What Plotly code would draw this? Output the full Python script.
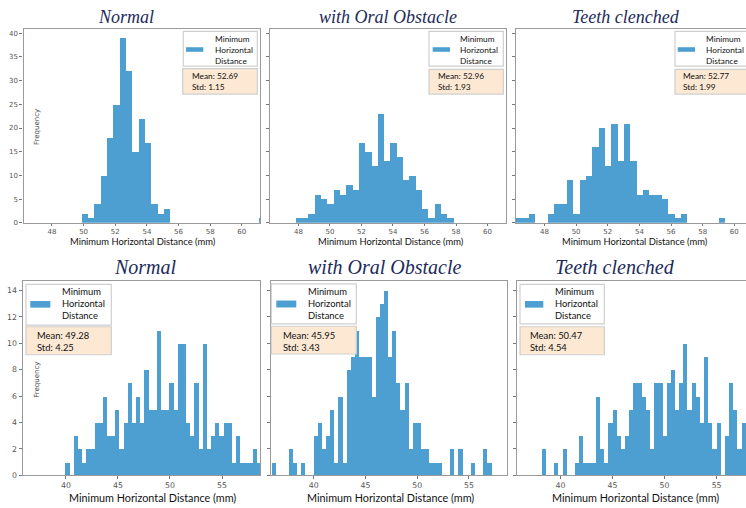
import plotly.graph_objects as go

W, H = 746, 508
BIN = 0.4  # histogram bin width (mm)

# ---------------- data ----------------
titles = ["Normal", "with Oral Obstacle", "Teeth clenched"]

# top row: first bin edge (mm) and counts per 0.4 mm bin
top_normal_start = 49.85
top_normal_counts = [2, 1, 4, 10, 18, 25, 39, 32, 15, 22, 17, 4, 2, 3,
                     0, 0, 0, 0, 0, 0, 0, 0, 0, 0, 0, 0, 0, 0, 1]
top_oral_start = 47.84
top_oral_counts = [1, 1, 2, 6, 5, 4, 7, 6, 8, 7, 17, 15, 12, 23, 13, 17, 14,
                   9, 10, 7, 3, 1, 4, 2, 1]
top_teeth_start = 46.23
top_teeth_counts = [1, 1, 2, 0, 0, 2, 4, 4, 9, 2, 9, 10, 16, 20, 12, 21, 13,
                    21, 13, 6, 7, 6, 6, 5, 2, 1, 2, 0, 0, 0, 0, 0, 1]

# bottom row
bot_normal_start = 39.92
bot_normal_counts = [1, 0, 3, 2, 1, 2, 2, 4, 4, 6, 3, 3, 5, 2, 4, 7, 4, 6, 4,
                     8, 5, 5, 11, 5, 5, 7, 5, 10, 10, 4, 3, 7, 2, 10, 2, 3, 4,
                     3, 4, 4, 1, 3, 1, 1, 1, 2, 1]
bot_oral_start = 35.96
bot_oral_counts = [1, 0, 0, 0, 2, 1, 0, 1, 0, 0, 3, 4, 2, 3, 5, 1, 6, 1, 8, 9,
                   11, 9, 9, 9, 6, 12, 13, 14, 9, 11, 7, 5, 7, 2, 4, 4, 2, 2,
                   1, 1, 1, 0, 0, 2, 0, 2, 0, 0, 1, 0, 0, 2, 1]
bot_teeth_start = 38.23
bot_teeth_counts = [2, 0, 0, 1, 0, 2, 0, 0, 1, 3, 1, 1, 1, 6, 2, 1, 4, 5, 3,
                    2, 3, 5, 7, 7, 6, 5, 2, 7, 7, 3, 7, 8, 5, 7, 10, 5, 7, 6,
                    4, 9, 4, 2, 4, 0, 3, 7, 5, 2, 4, 2]

top_means = [52.69, 52.96, 52.77]
top_stds = [1.15, 1.93, 1.99]
bot_means = [49.28, 45.95, 50.47]
bot_stds = [4.25, 3.43, 4.54]

top_xticks = [48, 50, 52, 54, 56, 58, 60]
top_yticks = [0, 5, 10, 15, 20, 25, 30, 35, 40]
bot_xticks = [40, 45, 50, 55]
bot_yticks = [0, 2, 4, 6, 8, 10, 12, 14]

legend_label = "Minimum<br>Horizontal<br>Distance"
xlabel = "Minimum Horizontal Distance (mm)"
ylabel = "Frequency"

# ---------------- styling / geometry ----------------
BLUE = "#4c9fd0"
FRAME = "#9a9a9a"
TITLE_C = "#1c2b5a"
TICK_FONT = "DejaVu Sans"
TEXT_FONT = "Lato"


def px(x):
    return x / W


def py(y):
    return 1 - y / H


series = [
    (top_normal_start, top_normal_counts),
    (top_oral_start, top_oral_counts),
    (top_teeth_start, top_teeth_counts),
    (bot_normal_start, bot_normal_counts),
    (bot_oral_start, bot_oral_counts),
    (bot_teeth_start, bot_teeth_counts),
]

# plot-area pixel boxes (x0, x1, ytop, ybottom)
boxes = [
    (23.5, 260.0, 29.0, 225.0),
    (270.0, 505.7, 29.0, 225.0),
    (516.0, 746.0, 29.0, 225.0),
    (22.7, 260.0, 283.3, 480.0),
    (270.7, 506.7, 283.3, 480.0),
    (517.3, 746.0, 283.3, 480.0),
]
top_scale = 236.5 / (61.15 - 46.2)
bot_scale = 237.3 / (58.65 - 35.85)
xranges = [
    (46.2, 61.15), (46.2, 61.15), (46.2, 46.2 + 230.0 / top_scale),
    (35.85, 58.65), (35.85, 58.65), (35.85, 35.85 + 228.7 / bot_scale),
]
yranges = [(0, 40.95)] * 3 + [(0, 14.75)] * 3

fig = go.Figure()
layout = dict(
    width=W, height=H, margin=dict(l=0, r=0, t=0, b=0),
    paper_bgcolor="white", plot_bgcolor="white", showlegend=False,
    bargap=0,
)

for i, ((start, counts), (bx0, bx1, byt, byb)) in enumerate(zip(series, boxes)):
    n = i + 1
    sfx = "" if n == 1 else str(n)
    centers = [start + BIN * k + BIN / 2 for k in range(len(counts))]
    fig.add_trace(go.Bar(
        x=centers, y=counts, width=BIN,
        marker=dict(color=BLUE, line=dict(width=0)),
        xaxis="x" + sfx, yaxis="y" + sfx, hoverinfo="skip",
    ))
    top = i < 3
    tick_fs = 7 if top else 7.8
    layout["xaxis" + sfx] = dict(
        domain=[px(bx0), px(bx1)], range=list(xranges[i]), anchor="y" + sfx,
        tickmode="array", tickvals=top_xticks if top else bot_xticks,
        ticks="outside", ticklen=2 if top else 2.5, tickwidth=1,
        tickcolor="#777",
        showline=True, linecolor=FRAME, linewidth=1.2, mirror=True,
        showgrid=False, zeroline=False,
        tickfont=dict(family=TICK_FONT, size=tick_fs, color="#555"),
    )
    layout["yaxis" + sfx] = dict(
        domain=[py(byb), py(byt)], range=list(yranges[i]), anchor="x" + sfx,
        tickmode="array", tickvals=top_yticks if top else bot_yticks,
        ticks="outside", ticklen=3, tickwidth=1, tickcolor="#777",
        showline=True, linecolor=FRAME, linewidth=1.2,
        mirror=(i not in (2, 5)),
        showgrid=False, zeroline=False,
        showticklabels=(i in (0, 3)),
        tickfont=dict(family=TICK_FONT, size=tick_fs, color="#555"),
    )

fig.update_layout(**layout)

annotations = []
shapes = []

# titles: (center x, center y, size)
title_pos = [(125.5, 17.0, 18), (387.7, 17.0, 18), (625.8, 17.0, 18),
             (145.0, 269.5, 20), (384.2, 269.5, 20), (614.7, 269.5, 20)]
for i, (cx, cy, fs) in enumerate(title_pos):
    annotations.append(dict(
        x=px(cx), y=py(cy), xref="paper", yref="paper",
        text="<i>" + titles[i % 3] + "</i>", showarrow=False,
        xanchor="center", yanchor="middle",
        font=dict(family="Liberation Serif", size=fs, color=TITLE_C),
    ))

# x axis labels
xlabel_pos = [(143.0, 243.8, 9.4), (391.3, 243.8, 9.4), (634.7, 243.8, 9.4),
              (152.0, 502.0, 10.8), (390.5, 502.0, 10.8), (635.5, 502.0, 10.8)]
for cx, cy, fs in xlabel_pos:
    annotations.append(dict(
        x=px(cx), y=py(cy), xref="paper", yref="paper", text=xlabel,
        showarrow=False, xanchor="center", yanchor="middle",
        font=dict(family=TEXT_FONT, size=fs, color="#111"),
    ))

# y labels (inside the first panel of each row)
for cx, cy in [(37.0, 128.3), (36.7, 383.8)]:
    annotations.append(dict(
        x=px(cx), y=py(cy), xref="paper", yref="paper", text=ylabel,
        showarrow=False, textangle=-90, xanchor="center", yanchor="middle",
        font=dict(family=TICK_FONT, size=7, color="#444"),
    ))

# legends and stats boxes
# (legend box, patch, text pos, stats box, stats text pos, font size)
legend_geo = [
    ((183.3, 257.3, 31.7, 66.7), (186.0, 203.3, 47.7, 52.3), (212.7, 50.3),
     (182.7, 257.3, 69.3, 95.0), (190.0, 82.2), 8.3),
    ((429.0, 503.3, 31.7, 66.7), (432.7, 450.0, 47.7, 52.3), (458.3, 50.3),
     (429.0, 503.3, 70.0, 95.0), (436.0, 82.2), 8.3),
    ((675.0, 760.0, 31.7, 66.7), (677.7, 695.0, 47.7, 52.3), (704.3, 50.3),
     (675.0, 760.0, 70.0, 95.0), (681.0, 82.2), 8.3),
    ((26.0, 111.3, 287.3, 328.3), (30.3, 50.3, 304.0, 310.7), (59.7, 307.0),
     (26.0, 111.3, 330.0, 358.3), (34.7, 345.0), 9.4),
    ((271.3, 356.3, 286.7, 327.0), (276.3, 296.3, 303.5, 310.5), (305.7, 307.0),
     (271.3, 356.3, 329.5, 357.5), (280.7, 344.5), 9.4),
    ((520.0, 604.3, 287.3, 327.0), (525.0, 543.3, 304.0, 310.7), (552.7, 307.0),
     (520.0, 604.3, 330.0, 358.3), (527.7, 344.5), 9.4),
]
means = top_means + bot_means
stds = top_stds + bot_stds
for i, (lb, pb, tp, sb, sp, fs) in enumerate(legend_geo):
    shapes.append(dict(type="rect", xref="paper", yref="paper",
                       x0=px(lb[0]), x1=px(lb[1]), y0=py(lb[3]), y1=py(lb[2]),
                       fillcolor="white", line=dict(color="#cfcfcf", width=1.2)))
    shapes.append(dict(type="rect", xref="paper", yref="paper",
                       x0=px(pb[0]), x1=px(pb[1]), y0=py(pb[3]), y1=py(pb[2]),
                       fillcolor=BLUE, line=dict(width=0)))
    annotations.append(dict(
        x=px(tp[0]), y=py(tp[1]), xref="paper", yref="paper",
        text=legend_label, showarrow=False, xanchor="left", yanchor="middle",
        align="left", font=dict(family=TEXT_FONT, size=fs, color="#111"),
    ))
    shapes.append(dict(type="rect", xref="paper", yref="paper",
                       x0=px(sb[0]), x1=px(sb[1]), y0=py(sb[3]), y1=py(sb[2]),
                       fillcolor="#fce8d3", line=dict(color="#cfcfcf", width=1.2)))
    annotations.append(dict(
        x=px(sp[0]), y=py(sp[1]), xref="paper", yref="paper",
        text=f"Mean: {means[i]:.2f}<br>Std: {stds[i]:.2f}", showarrow=False,
        xanchor="left", yanchor="middle", align="left",
        font=dict(family=TEXT_FONT, size=fs, color="#111"),
    ))

fig.update_layout(annotations=annotations, shapes=shapes)
fig.write_html("out.html")
